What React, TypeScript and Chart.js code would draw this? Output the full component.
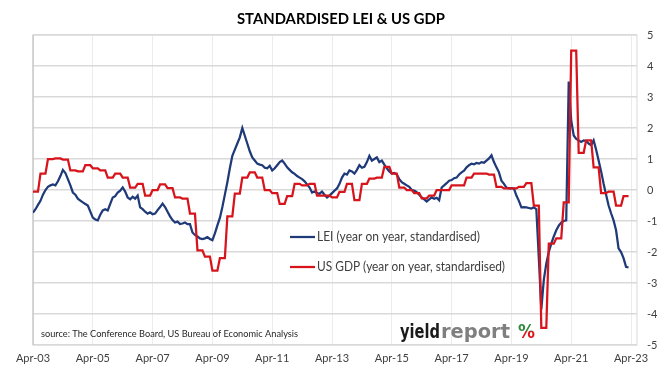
import React, { useEffect, useRef } from "react";
import { Chart, registerables } from "chart.js";

Chart.register(...registerables);

// Monthly data, first point = Apr-03 (index 0), last = Mar-23 (index 239)
const LEI: number[] = [
  -0.73, -0.62, -0.48, -0.35, -0.15, 0.0, 0.1, 0.15, 0.18, 0.15, 0.28, 0.45,
  0.65, 0.55, 0.35, 0.15, -0.08, -0.15, -0.28, -0.34, -0.4, -0.45, -0.5, -0.7,
  -0.89, -0.95, -0.98, -0.8, -0.66, -0.62, -0.66, -0.45, -0.24, -0.2, -0.08, -0.02,
  0.08, -0.05, -0.24, -0.3, -0.22, -0.28, -0.18, -0.56, -0.62, -0.7, -0.76, -0.72,
  -0.78, -0.76, -0.65, -0.55, -0.44, -0.55, -0.7, -0.85, -0.97, -1.05, -1.02, -1.1,
  -1.08, -1.05, -1.1, -1.1, -1.37, -1.45, -1.5, -1.56, -1.58, -1.56, -1.52, -1.58,
  -1.62, -1.4, -1.14, -0.9, -0.55, -0.15, 0.25, 0.7, 1.1, 1.3, 1.5, 1.7,
  2.0, 1.75, 1.5, 1.25, 1.05, 0.95, 0.85, 0.82, 0.8, 0.72, 0.7, 0.78,
  0.63, 0.7, 0.8, 0.9, 0.95, 0.85, 0.73, 0.65, 0.57, 0.52, 0.45, 0.4,
  0.35, 0.28, 0.18, 0.08, -0.08, -0.05, -0.1, -0.12, -0.05, -0.15, -0.24, -0.18,
  -0.1, -0.02, 0.05, 0.2, 0.4, 0.53, 0.5, 0.63, 0.6, 0.53, 0.65, 0.8,
  0.72, 0.75, 0.9, 1.1, 0.95, 1.0, 1.05, 0.9, 0.95, 0.82, 0.7, 0.6,
  0.53, 0.55, 0.5, 0.35, 0.25, 0.2, 0.15, 0.1, 0.0, -0.02, -0.07, -0.15,
  -0.24, -0.3, -0.37, -0.3, -0.24, -0.28, -0.25, -0.33, 0.08, 0.15, 0.22, 0.3,
  0.32, 0.38, 0.4, 0.5, 0.57, 0.62, 0.73, 0.8, 0.85, 0.83, 0.87, 0.85,
  0.9, 0.88, 0.95, 1.02, 1.12, 0.9, 0.73, 0.57, 0.3, 0.2, 0.08, 0.05,
  0.06, 0.05, -0.18, -0.35, -0.56, -0.55, -0.56, -0.58, -0.6, -0.56, -0.62, -2.2,
  -3.85, -2.9, -2.37, -2.0, -1.73, -1.5, -1.3, -1.15, -1.05, -1.0, -0.98, 3.5,
  2.24, 1.76, 1.65, 1.6, 1.55, 1.6, 1.58, 1.5, 1.45, 1.6, 1.3, 0.95,
  0.6, 0.2, -0.15, -0.5, -0.75, -0.98, -1.3, -1.88, -2.0, -2.2, -2.48, -2.5,
];

const GDP: number[] = [
  -0.05, -0.05, -0.05, 0.53, 0.53, 0.53, 1.0, 1.0, 1.0, 1.02, 1.02, 1.02,
  0.98, 0.98, 0.98, 0.63, 0.63, 0.63, 0.6, 0.6, 0.6, 0.8, 0.8, 0.8,
  0.7, 0.7, 0.7, 0.63, 0.63, 0.63, 0.4, 0.4, 0.4, 0.53, 0.53, 0.53,
  0.4, 0.4, 0.4, 0.08, 0.08, 0.08, 0.2, 0.2, 0.2, -0.18, -0.18, -0.18,
  0.0, 0.0, 0.0, 0.18, 0.18, 0.18, 0.06, 0.06, 0.06, -0.24, -0.24, -0.24,
  -0.28, -0.28, -0.28, -0.76, -0.76, -0.76, -1.95, -1.95, -1.95, -2.15, -2.15, -2.15,
  -2.6, -2.6, -2.6, -2.2, -2.2, -2.2, -0.85, -0.85, -0.85, -0.12, -0.12, -0.12,
  0.4, 0.4, 0.4, 0.57, 0.57, 0.57, 0.4, 0.4, 0.4, 0.0, 0.0, 0.0,
  -0.1, -0.1, -0.1, -0.45, -0.45, -0.45, -0.2, -0.2, -0.2, 0.2, 0.2, 0.2,
  0.15, 0.15, 0.15, 0.2, 0.2, 0.2, -0.18, -0.18, -0.18, -0.18, -0.18, -0.18,
  -0.24, -0.24, -0.24, -0.06, -0.06, -0.06, 0.2, 0.2, 0.2, -0.33, -0.33, -0.33,
  0.2, 0.2, 0.2, 0.37, 0.37, 0.37, 0.4, 0.4, 0.4, 0.75, 0.75, 0.75,
  0.53, 0.53, 0.53, 0.08, 0.08, 0.08, 0.0, 0.0, 0.0, -0.1, -0.1, -0.1,
  -0.27, -0.27, -0.27, -0.18, -0.18, -0.18, 0.0, 0.0, 0.0, 0.0, 0.0, 0.0,
  0.15, 0.15, 0.15, 0.15, 0.15, 0.15, 0.4, 0.4, 0.4, 0.53, 0.53, 0.53,
  0.53, 0.53, 0.53, 0.5, 0.5, 0.5, 0.1, 0.1, 0.1, 0.05, 0.05, 0.05,
  0.05, 0.05, 0.05, 0.1, 0.1, 0.1, 0.22, 0.22, 0.22, -0.5, -0.5, -0.5,
  -4.45, -4.45, -4.45, -1.73, -1.73, -1.73, -1.56, -1.56, -1.56, -0.4, -0.4, -0.4,
  4.5, 4.5, 4.5, 1.2, 1.2, 1.2, 1.6, 1.6, 1.6, 0.73, 0.73, 0.73,
  -0.1, -0.1, -0.1, -0.05, -0.05, -0.05, -0.5, -0.5, -0.5, -0.2, -0.2, -0.2,
];

const X_TICK_MONTHS: number[] = [0, 24, 48, 72, 96, 120, 144, 168, 192, 216, 240];
const X_TICK_LABELS: string[] = [
  "Apr-03", "Apr-05", "Apr-07", "Apr-09", "Apr-11", "Apr-13",
  "Apr-15", "Apr-17", "Apr-19", "Apr-21", "Apr-23",
];

const TITLE = "STANDARDISED LEI & US GDP";
const LEI_LABEL = "LEI (year on year, standardised)";
const GDP_LABEL = "US GDP (year on year, standardised)";
const SOURCE = "source: The Conference Board, US Bureau of Economic Analysis";

const LEI_COLOR = "#1f3a78";
const GDP_COLOR = "#d7141c";

function fillFit(
  ctx: CanvasRenderingContext2D,
  text: string,
  x: number,
  y: number,
  font: string,
  width: number,
  color: string | ((c: CanvasRenderingContext2D) => CanvasGradient)
) {
  ctx.save();
  ctx.font = font;
  ctx.textBaseline = "alphabetic";
  ctx.textAlign = "left";
  const w = ctx.measureText(text).width;
  const s = width / w;
  ctx.translate(x, y);
  ctx.scale(s, 1);
  ctx.fillStyle = typeof color === "function" ? color(ctx) : color;
  ctx.fillText(text, 0, 0);
  ctx.restore();
}

const decorPlugin = {
  id: "decor",
  beforeDatasetsDraw(chart: any) {
    const { ctx, chartArea } = chart;
    ctx.save();
    ctx.strokeStyle = "#d9d9d9";
    ctx.lineWidth = 1;
    ctx.strokeRect(chartArea.left, chartArea.top, chartArea.right - chartArea.left, chartArea.bottom - chartArea.top);
    ctx.strokeStyle = "#bfbfbf";
    ctx.beginPath();
    ctx.moveTo(chartArea.left, chartArea.top);
    ctx.lineTo(chartArea.left, chartArea.bottom);
    ctx.stroke();
    ctx.restore();
  },
  afterDraw(chart: any) {
    const { ctx } = chart;
    // title
    fillFit(ctx, TITLE, 237, 24, "bold 15px Lato", 208, "#000000");
    // legend
    ctx.save();
    ctx.lineWidth = 2.25;
    ctx.strokeStyle = LEI_COLOR;
    ctx.beginPath();
    ctx.moveTo(290, 237);
    ctx.lineTo(315, 237);
    ctx.stroke();
    ctx.strokeStyle = GDP_COLOR;
    ctx.beginPath();
    ctx.moveTo(290, 267);
    ctx.lineTo(315, 267);
    ctx.stroke();
    ctx.restore();
    fillFit(ctx, LEI_LABEL, 317, 241, "12.5px Lato", 163, "#404040");
    fillFit(ctx, GDP_LABEL, 317, 271, "12.5px Lato", 188, "#404040");
    // source
    fillFit(ctx, SOURCE, 41, 337, "9.5px Lato", 257, "#262626");
    // logo
    fillFit(ctx, "yield", 400, 338, "bold 20px 'DejaVu Sans'", 40, "#1a1a1a");
    fillFit(ctx, "report", 441, 338, "bold 20px 'DejaVu Sans'", 69, "#7f7f7f");
    fillFit(ctx, "%", 518, 338, "bold 19px 'DejaVu Sans'", 17, (c) => {
      const g = c.createLinearGradient(0, -14, 0, 1);
      g.addColorStop(0, "#2e8b3e");
      g.addColorStop(0.42, "#2e8b3e");
      g.addColorStop(0.52, "#e0161d");
      g.addColorStop(1, "#e0161d");
      return g;
    });
  },
};

export default function App() {
  const ref = useRef<HTMLCanvasElement | null>(null);
  useEffect(() => {
    document.body.style.margin = "0";
    const canvas = ref.current;
    if (!canvas) return;
    const chart = new Chart(canvas, {
      type: "line",
      data: {
        datasets: [
          {
            label: LEI_LABEL,
            data: LEI.map((v, i) => ({ x: i, y: v })),
            borderColor: LEI_COLOR,
            backgroundColor: LEI_COLOR,
            borderWidth: 2.25,
            pointRadius: 0,
            tension: 0,
            order: 1,
          },
          {
            label: GDP_LABEL,
            data: GDP.map((v, i) => ({ x: i, y: v })),
            borderColor: GDP_COLOR,
            backgroundColor: GDP_COLOR,
            borderWidth: 2.25,
            pointRadius: 0,
            tension: 0,
            order: 0,
          },
        ],
      },
      options: {
        responsive: false,
        animation: false,
        maintainAspectRatio: false,
        layout: { padding: { left: 33, top: 35, right: 0, bottom: 0 } },
        plugins: {
          legend: { display: false },
          title: { display: false },
          tooltip: { enabled: false },
        },
        scales: {
          x: {
            type: "linear",
            min: 0,
            max: 242.4,
            afterBuildTicks: (axis: any) => {
              axis.ticks = X_TICK_MONTHS.map((v) => ({ value: v }));
            },
            afterFit: (axis: any) => {
              axis.height = 23;
            },
            grid: { color: "#ececec", lineWidth: 1, drawTicks: false },
            border: { display: false },
            ticks: {
              autoSkip: false,
              maxRotation: 0,
              padding: 7,
              color: "#404040",
              font: { family: "Lato", size: 11 },
              callback: (val: any) => {
                const idx = X_TICK_MONTHS.indexOf(Number(val));
                return idx >= 0 ? X_TICK_LABELS[idx] : "";
              },
            },
          },
          y: {
            position: "right",
            min: -5,
            max: 5,
            afterFit: (axis: any) => {
              axis.width = 34;
            },
            grid: { color: "#d9d9d9", lineWidth: 1.5, drawTicks: false },
            border: { display: false },
            ticks: {
              stepSize: 1,
              padding: 10,
              color: "#404040",
              font: { family: "Lato", size: 11 },
            },
          },
        },
      },
      plugins: [decorPlugin],
    } as any);
    return () => chart.destroy();
  }, []);
  return (
    <div style={{ width: 671, height: 368, background: "#ffffff" }}>
      <canvas ref={ref} width={671} height={368} style={{ display: "block" }} />
    </div>
  );
}
